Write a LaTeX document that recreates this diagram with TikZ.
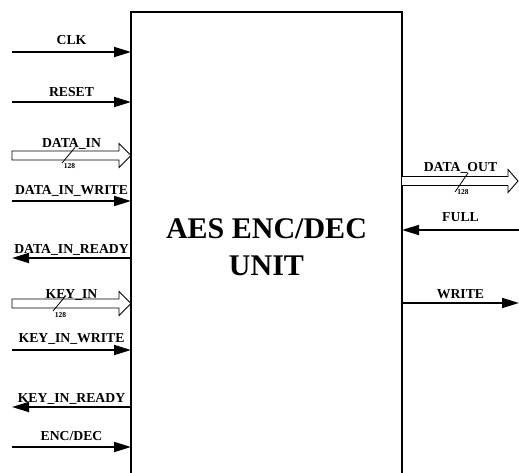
\documentclass[tikz,border=0pt]{standalone}
\usepackage{fontspec}
\setmainfont{Liberation Serif}
\usetikzlibrary{arrows.meta}
\begin{document}
\begin{tikzpicture}[x=1pt,y=-1pt,
  sig/.style={line width=1.8pt,-{Triangle[length=17pt,width=10pt]}},
  lbl/.style={anchor=base,inner sep=0pt,font=\fontsize{13.7}{15}\selectfont\bfseries},
  busw/.style={anchor=base,inner sep=0pt,font=\fontsize{7.5}{9}\selectfont\bfseries},
  bus/.style={draw,line width=0.9pt,fill=white},
  slash/.style={line width=0.8pt},
  big/.style={anchor=base,inner sep=0pt,font=\fontsize{30}{36}\selectfont\bfseries}]
\useasboundingbox (0,0) rectangle (519,473);
% unit box (open at bottom)
\draw[line width=1.1pt] (131,475) -- (131,12) -- (402,12) -- (402,475);
\node[big] (unitA) at (266.5,238) {AES ENC/DEC};
\node[big] (unitB) at (266.5,275) {UNIT};
% single-bit inputs
\foreach \nm/\y/\t/\ly in {clk/52/CLK/45, rst/102/RESET/97, diw/201/DATA\_IN\_WRITE/195, kiw/350/KEY\_IN\_WRITE/342, enc/447/{ENC/DEC}/440}{
  \coordinate (\nm s) at (12,\y);
  \coordinate (\nm e) at (131,\y);
  \draw[sig] (\nm s) -- (\nm e);
  \node[lbl] (\nm l) at (71.5,\ly) {\t};
}
% outputs on left
\foreach \nm/\y/\t/\ly in {dir/258/DATA\_IN\_READY/253, kir/407/KEY\_IN\_READY/402}{
  \coordinate (\nm s) at (131,\y);
  \coordinate (\nm e) at (12,\y);
  \draw[sig] (\nm s) -- (\nm e);
  \node[lbl] (\nm l) at (71.5,\ly) {\t};
}
% buses on left
\foreach \nm/\c/\t/\ly/\sx in {din/155.5/DATA\_IN/148/62, kin/303.5/KEY\_IN/298/53}{
  \draw[bus] (12,\c-4.5) -- (119,\c-4.5) -- (119,\c-12) -- (131,\c) -- (119,\c+12) -- (119,\c+4.5) -- (12,\c+4.5) -- cycle;
  \node[lbl] (\nm l) at (71.5,\ly) {\t};
  \coordinate (\nm a) at (\sx,\c+7.5);
  \coordinate (\nm b) at (\sx+13,\c-8);
  \draw[slash] (\nm a) -- (\nm b);
  \node[busw] (\nm w) at (\sx+7.5,\c+13.5) {128};
}
% right side
\draw[bus] (402,176.5) -- (508,176.5) -- (508,169.5) -- (518,181) -- (508,192.5) -- (508,185.5) -- (402,185.5);
\node[lbl] (doutl) at (460.5,172) {DATA\_OUT};
\coordinate (douta) at (455,192);
\coordinate (doutb) at (468,173);
\draw[slash] (douta) -- (doutb);
\node[busw] (doutw) at (463,195) {128};
\coordinate (fulls) at (519,230);
\coordinate (fulle) at (402,230);
\draw[sig] (fulls) -- (fulle);
\node[lbl] (fulll) at (460.5,222) {FULL};
\coordinate (wrs) at (402,303);
\coordinate (wre) at (519,303);
\draw[sig] (wrs) -- (wre);
\node[lbl] (wrl) at (460.5,298) {WRITE};
\end{tikzpicture}
\end{document}
